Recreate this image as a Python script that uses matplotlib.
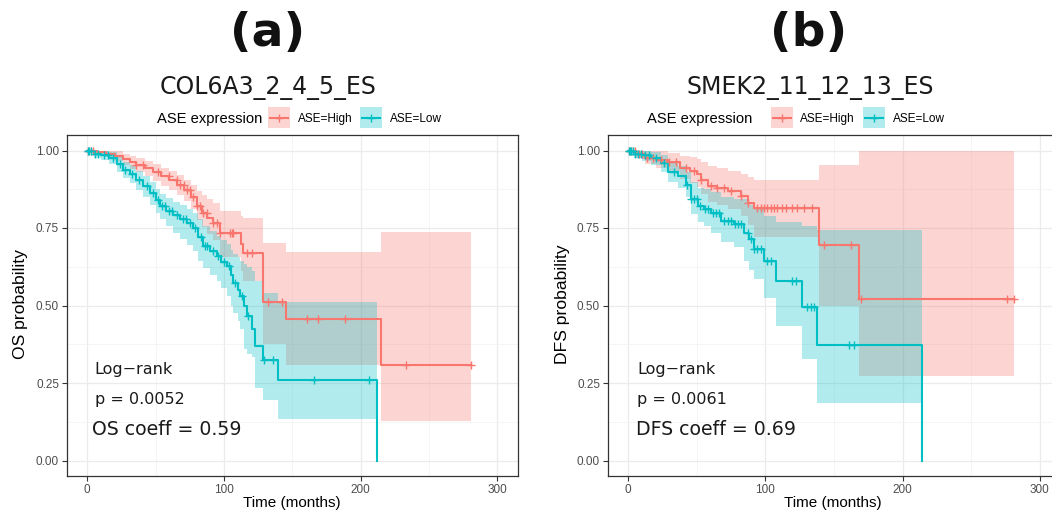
import numpy as np
import matplotlib
matplotlib.use("Agg")
import matplotlib.pyplot as plt
from matplotlib.patches import Rectangle
from matplotlib.lines import Line2D
from matplotlib.transforms import Affine2D

plt.rcParams["font.family"] = ["Liberation Sans", "DejaVu Sans"]

# ---------------------------------------------------------------- data
# (a) COL6A3_2_4_5_ES, overall survival
a_high_t = [0, 7, 14, 20, 26, 31, 36, 42, 48, 54, 60, 66, 71, 76, 80, 84, 88, 92,
            97, 112.5, 114, 128.8, 145.8, 215.3]
a_high_s = [1.0, 0.995, 0.99, 0.982, 0.972, 0.962, 0.954, 0.943, 0.93, 0.917, 0.905,
            0.89, 0.874, 0.85, 0.82, 0.8, 0.783, 0.765, 0.735, 0.70, 0.67, 0.51, 0.457, 0.307]
a_high_hi = [1.0, 1.0, 1.0, 0.998, 0.99, 0.982, 0.975, 0.966, 0.955, 0.945, 0.935,
             0.922, 0.905, 0.89, 0.87, 0.855, 0.845, 0.83, 0.804, 0.79, 0.783, 0.702, 0.673, 0.738]
a_high_lo = [1.0, 0.985, 0.978, 0.966, 0.952, 0.94, 0.93, 0.917, 0.902, 0.887, 0.873,
             0.856, 0.838, 0.81, 0.775, 0.752, 0.732, 0.71, 0.655, 0.61, 0.58, 0.376, 0.307, 0.127]
a_high_c = [0.7, 2.5, 4.4, 36, 41, 52, 59.5, 65.6, 68, 70.5, 73, 75, 77.5, 80, 82.4, 85,
            87.3, 92, 94.7, 97, 104.4, 105.6, 106.8, 116.6, 120.3, 132.4, 142.2, 160.5,
            169, 188.5, 233.6, 281]

a_low_t = [0, 5, 10, 16, 22, 26, 31, 36, 41, 46, 50, 53, 58, 63, 68, 73, 77.5, 81, 85,
           90, 94.7, 98, 102, 105, 107, 110, 112, 115, 117, 120.3, 122.7, 128.7, 139.7, 211.7]
a_low_s = [1.0, 0.99, 0.985, 0.975, 0.955, 0.938, 0.925, 0.906, 0.885, 0.862, 0.84, 0.82,
           0.805, 0.793, 0.78, 0.767, 0.751, 0.72, 0.692, 0.675, 0.66, 0.64, 0.628, 0.6,
           0.574, 0.55, 0.531, 0.5, 0.467, 0.424, 0.37, 0.323, 0.259, 0.0]
a_low_hi = [1.0, 1.0, 1.0, 0.995, 0.978, 0.963, 0.952, 0.935, 0.917, 0.897, 0.877, 0.859,
            0.846, 0.835, 0.823, 0.812, 0.8, 0.78, 0.755, 0.74, 0.725, 0.71, 0.7, 0.68,
            0.665, 0.655, 0.645, 0.635, 0.625, 0.61, 0.58, 0.54, 0.51, 0.51]
a_low_lo = [1.0, 0.975, 0.968, 0.955, 0.93, 0.91, 0.895, 0.873, 0.85, 0.825, 0.8, 0.778,
            0.758, 0.735, 0.715, 0.695, 0.675, 0.645, 0.62, 0.6, 0.58, 0.555, 0.53, 0.5,
            0.475, 0.45, 0.424, 0.36, 0.345, 0.335, 0.235, 0.195, 0.133, 0.0]
a_low_c = [0.5, 1.5, 3, 6, 8, 12, 15, 19, 24, 28, 33, 38, 44, 48, 52, 55, 57, 60, 62, 66,
           70, 72, 75, 79, 83, 86, 88, 92, 96, 100, 104, 108, 113, 118, 129, 136, 165.8, 206.3]

# (b) SMEK2_11_12_13_ES, disease-free survival
b_high_t = [0, 6, 12, 20, 29, 38, 45, 50, 53, 57.8, 65, 72.4, 82, 87, 91.8, 139.1, 168.3]
b_high_s = [1.0, 0.99, 0.975, 0.97, 0.962, 0.943, 0.935, 0.925, 0.906, 0.885, 0.878,
            0.869, 0.853, 0.832, 0.815, 0.694, 0.521]
b_high_hi = [1.0, 1.0, 1.0, 0.998, 0.993, 0.982, 0.978, 0.972, 0.962, 0.95, 0.945, 0.935,
             0.925, 0.915, 0.906, 0.954, 0.997]
b_high_lo = [1.0, 0.975, 0.955, 0.945, 0.932, 0.908, 0.895, 0.882, 0.86, 0.835, 0.825,
             0.812, 0.79, 0.76, 0.722, 0.5, 0.272]
b_high_c = [0.5, 2, 3.5, 5, 8, 10, 14, 18, 24, 30, 35, 42, 48, 53, 60.2, 65, 69.9, 74.8,
            82, 87, 94.2, 96.7, 99, 101.5, 103.9, 106.3, 108.8, 112.4, 114.8, 119.7, 123.3,
            128, 134.3, 142.7, 162.2, 169.5, 276.3, 281.1]

b_low_t = [0, 4.4, 10, 16.5, 23.8, 28.7, 36, 42, 45.7, 50.5, 55, 60.2, 67.5, 77.2, 84.5,
           88.1, 91.8, 99, 107.6, 127, 137.9, 214.4]
b_low_s = [1.0, 0.99, 0.985, 0.975, 0.96, 0.932, 0.917, 0.89, 0.842, 0.82, 0.81, 0.799,
           0.772, 0.762, 0.735, 0.713, 0.681, 0.644, 0.58, 0.494, 0.371, 0.0]
b_low_hi = [1.0, 1.0, 1.0, 0.995, 0.985, 0.962, 0.95, 0.93, 0.9, 0.88, 0.875, 0.865, 0.85,
            0.845, 0.842, 0.825, 0.81, 0.79, 0.77, 0.755, 0.745, 0.745]
b_low_lo = [1.0, 0.975, 0.965, 0.952, 0.93, 0.9, 0.88, 0.85, 0.795, 0.77, 0.755, 0.735,
            0.705, 0.69, 0.645, 0.615, 0.585, 0.525, 0.435, 0.328, 0.186, 0.0]
b_low_c = [0.3, 1, 2, 3.5, 5, 7, 9, 12, 15, 20, 26, 33, 43, 46, 48, 50, 52, 56, 58, 62, 64,
           66, 70, 73, 75, 78, 80, 82, 87, 89.4, 91.8, 94.2, 96.7, 101.5, 103.9, 119.7,
           122.1, 130.6, 133, 135.5, 161, 164.6]

x_ticks = [0, 100, 200, 300]
y_ticks = [0.0, 0.25, 0.5, 0.75, 1.0]
y_ticklabels = ["0.00", "0.25", "0.50", "0.75", "1.00"]

HIGH = "#F8766D"
LOW = "#00BFC4"

# ---------------------------------------------------------------- figure
W, H = 1052, 515
fig = plt.figure(figsize=(W / 100, H / 100), dpi=100)
px = Affine2D().scale(1 / W, -1 / H).translate(0, 1) + fig.transFigure


def extended(t, s, lo, hi, cens):
    t = np.asarray(t, float)
    s, lo, hi = (np.asarray(v, float) for v in (s, lo, hi))
    end = max(t[-1], max(cens))
    if end > t[-1]:
        t = np.append(t, end)
        s = np.append(s, s[-1])
        lo = np.append(lo, lo[-1])
        hi = np.append(hi, hi[-1])
    return t, s, lo, hi


def km_panel(ax, curves):
    ext = [(extended(t, s, lo, hi, c), c, col) for (t, s, lo, hi, c, col) in curves]
    for (t, s, lo, hi), c, col in ext:
        ax.fill_between(t, lo, hi, step="post", color=col, alpha=0.3, lw=0, zorder=2)
    for (t, s, lo, hi), c, col in ext:
        ax.step(t, s, where="post", color=col, lw=1.5, zorder=3)
        c = np.asarray(c, float)
        idx = np.searchsorted(t, c, side="right") - 1
        ax.plot(c, s[idx], ls="none", marker="+", ms=5.5, mew=1.0, color=col, zorder=4)

    ax.set_xlim(-15, 315)
    ax.set_ylim(-0.05, 1.05)
    ax.set_xticks(x_ticks)
    ax.set_xticks([50, 150, 250], minor=True)
    ax.set_yticks(y_ticks)
    ax.set_yticklabels(y_ticklabels)
    ax.set_yticks([0.125, 0.375, 0.625, 0.875], minor=True)
    ax.grid(which="major", color="#EBEBEB", lw=0.9)
    ax.grid(which="minor", color="#F2F2F2", lw=0.5)
    ax.set_axisbelow(True)
    for sp in ax.spines.values():
        sp.set_color("#333333")
        sp.set_linewidth(0.9)
    ax.tick_params(which="major", direction="out", length=3.5, width=0.8, color="#333333",
                   labelsize=8.5, labelcolor="#4D4D4D", pad=2)
    ax.tick_params(which="minor", length=0)


def legend(title_x, k1, l1, k2, l2):
    fig.text(title_x, 122.5, "ASE expression", transform=px, fontsize=10.6,
             ha="left", va="baseline", color="black")
    for kx, lx, col, lab in ((k1, l1, HIGH, "ASE=High"), (k2, l2, LOW, "ASE=Low")):
        fig.add_artist(Rectangle((kx, 107), 22, 21, transform=px, facecolor=col,
                                 alpha=0.3, lw=0))
        fig.add_artist(Line2D([kx + 2, kx + 20], [117.5, 117.5], transform=px,
                              color=col, lw=1.5))
        fig.add_artist(Line2D([kx + 11], [117.5], transform=px, color=col, ls="none",
                              marker="+", ms=5.5, mew=1.0))
        fig.text(lx, 121.7, lab, transform=px, fontsize=8.5, ha="left", va="baseline",
                 color="black")


panels = [
    dict(rect=[66.7 / W, 39 / H, 451 / W, 341 / H], tag="(a)", tag_x=267.5,
         title="COL6A3_2_4_5_ES", title_x=268.5, ylabel="OS probability", ylab_x=21,
         xlab_x=291.7, pval="p = 0.0052", coeff="OS coeff = 0.59", txt_x=5.6, coeff_x=3.4,
         leg=(156.7, 268, 298, 360, 390),
         curves=[(a_high_t, a_high_s, a_high_lo, a_high_hi, a_high_c, HIGH),
                 (a_low_t, a_low_s, a_low_lo, a_low_hi, a_low_c, LOW)]),
    dict(rect=[607.7 / W, 39 / H, 452.5 / W, 341 / H], tag="(b)", tag_x=809,
         title="SMEK2_11_12_13_ES", title_x=810, ylabel="DFS probability", ylab_x=562,
         xlab_x=833, pval="p = 0.0061", coeff="DFS coeff = 0.69", txt_x=6.3, coeff_x=5.6,
         leg=(646.7, 770.7, 800, 863, 892.7),
         curves=[(b_high_t, b_high_s, b_high_lo, b_high_hi, b_high_c, HIGH),
                 (b_low_t, b_low_s, b_low_lo, b_low_hi, b_low_c, LOW)]),
]

for p in panels:
    ax = fig.add_axes(p["rect"])
    km_panel(ax, p["curves"])
    ax.text(p["txt_x"], 0.280, "Log\u2212rank", fontsize=11.5, family="DejaVu Sans",
            color="#1A1A1A", va="baseline", ha="left")
    ax.text(p["txt_x"], 0.182, p["pval"], fontsize=11.5, family="DejaVu Sans",
            color="#1A1A1A", va="baseline", ha="left")
    ax.text(p["coeff_x"], 0.082, p["coeff"], fontsize=13.6, family="DejaVu Sans",
            color="#1A1A1A", va="baseline", ha="left")

    fig.text(p["tag_x"], 34, p["tag"], transform=px, fontsize=34, fontweight="bold",
             family="DejaVu Sans", ha="center", va="center", color="#111111")
    fig.text(p["title_x"], 94, p["title"], transform=px, fontsize=17,
             family="DejaVu Sans", ha="center", va="baseline", color="#1A1A1A")
    fig.text(p["ylab_x"], 304, p["ylabel"], transform=px, fontsize=12.6, rotation=90,
             ha="center", va="center", color="black")
    fig.text(p["xlab_x"], 503, "Time (months)", transform=px, fontsize=11,
             ha="center", va="center", color="black")
    legend(*p["leg"])

fig.savefig("out.png", dpi=100)
